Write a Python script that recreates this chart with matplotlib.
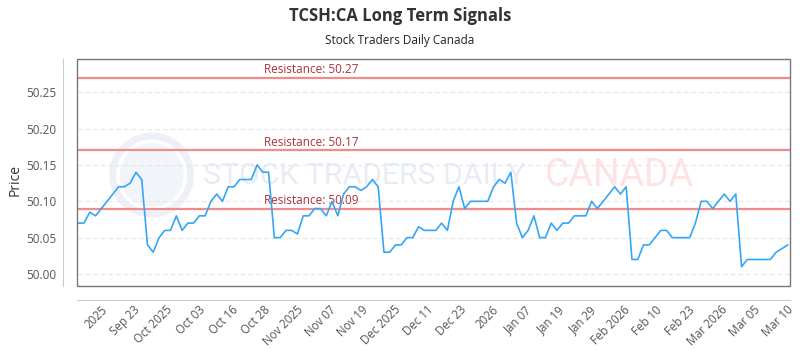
import matplotlib
matplotlib.use("Agg")
import matplotlib.pyplot as plt
from matplotlib.patches import Rectangle, Circle
from matplotlib.transforms import IdentityTransform
import numpy as np

plt.rcParams['font.family'] = ['Open Sans', 'DejaVu Sans']

prices = [
    50.07, 50.07, 50.085, 50.08, 50.09, 50.10, 50.11, 50.12, 50.12, 50.125,
    50.14, 50.13, 50.04, 50.03, 50.05, 50.06, 50.06, 50.08, 50.06, 50.07,
    50.07, 50.08, 50.08, 50.10, 50.11, 50.10, 50.12, 50.12, 50.13, 50.13,
    50.13, 50.15, 50.14, 50.14, 50.05, 50.05, 50.06, 50.06, 50.055, 50.08,
    50.08, 50.09, 50.09,
    50.08, 50.10, 50.08, 50.11, 50.12, 50.12, 50.115, 50.12, 50.13, 50.12,
    50.03, 50.03, 50.04, 50.04, 50.05, 50.05, 50.065, 50.06, 50.06, 50.06,
    50.07, 50.06, 50.10, 50.12, 50.09, 50.10, 50.10, 50.10, 50.10, 50.12,
    50.13, 50.125, 50.14, 50.07, 50.05, 50.06, 50.08, 50.05, 50.05,
    50.07, 50.06, 50.07, 50.07, 50.08, 50.08, 50.08, 50.10, 50.09, 50.10,
    50.11, 50.12, 50.11, 50.12, 50.02, 50.02, 50.04, 50.04, 50.05, 50.06,
    50.06, 50.05, 50.05, 50.05, 50.05, 50.07, 50.10, 50.10, 50.09, 50.10,
    50.11, 50.10, 50.11, 50.01, 50.02, 50.02, 50.02, 50.02, 50.02, 50.03,
    50.035, 50.04,
]

resistance_levels = [50.27, 50.17, 50.09]
resistance_labels = ["Resistance: 50.27", "Resistance: 50.17", "Resistance: 50.09"]

tick_labels = ["2025", "Sep 23", "Oct 2025", "Oct 03", "Oct 16", "Oct 28",
               "Nov 2025", "Nov 07", "Nov 19", "Dec 2025", "Dec 11", "Dec 23",
               "2026", "Jan 07", "Jan 19", "Jan 29", "Feb 2026", "Feb 10",
               "Feb 23", "Mar 2026", "Mar 05", "Mar 10"]

y_ticks = [50.00, 50.05, 50.10, 50.15, 50.20, 50.25]

x = np.arange(len(prices))

fig = plt.figure(figsize=(8, 3.5), dpi=100)
ax = fig.add_axes([0.0966, 0.1829, 0.8909, 0.6477])

for s in ['top', 'right']:
    ax.spines[s].set_visible(False)
ax.spines['left'].set_position(('outward', 10))
ax.spines['bottom'].set_position(('outward', 10))
ax.spines['left'].set_color('#cccccc')
ax.spines['bottom'].set_color('#cccccc')

ax.set_xlim(-0.17, len(prices) - 1 + 0.4)
ax.set_ylim(49.9835, 50.2954)

# watermark (pixel coordinates)
ident = IdentityTransform()
ax.text(203, 350 - 176, "STOCK TRADERS DAILY", transform=ident, fontsize=21.7,
        family=['Roboto', 'DejaVu Sans'], color='#e8edf5', va='center', ha='left', zorder=0)
ax.text(545, 350 - 176, "CANADA", transform=ident, fontsize=27,
        family=['Roboto', 'DejaVu Sans'], color='#fde3e3', va='center', ha='left', zorder=0)
ax.add_patch(Circle((151.7, 350 - 175), 39, transform=ident, fill=False,
                    edgecolor='#edf1f7', lw=5, zorder=0))
ax.add_patch(Circle((151.7, 350 - 175), 32, transform=ident, fill=True,
                    facecolor='#f1f4f9', edgecolor='none', zorder=0))

for yv in y_ticks:
    ax.axhline(yv, color='#e6e6e6', lw=0.8, ls=(0, (4, 3)), zorder=1)

for lvl, lab in zip(resistance_levels, resistance_labels):
    ax.axhline(lvl, color='#f28b8b', lw=1.6, zorder=2)
    ax.text(32.2, lvl + 0.002, lab, color='#b0303a', fontsize=8.5,
            ha='left', va='bottom', zorder=3)

ax.plot(x, prices, color='#35a6f5', lw=1.2, zorder=4)

ax.set_yticks(y_ticks)
ax.set_yticklabels([f"{v:.2f}" for v in y_ticks])
tick_pos = np.linspace(3.6, 122.5, len(tick_labels))
ax.set_xticks(tick_pos)
ax.set_xticklabels([""] * len(tick_labels))

ax.tick_params(axis='both', length=0, colors='#555555', labelsize=8.5)
ax.tick_params(axis='y', pad=5)

for pos, lab in zip(tick_pos, tick_labels):
    ax.annotate(lab, xy=(pos, 0), xycoords=('data', 'axes fraction'),
                xytext=(1, -12.5), textcoords='offset points', rotation=45,
                ha='right', va='top', rotation_mode='anchor',
                fontsize=8.3, color='#555555', annotation_clip=False)

ax.add_patch(Rectangle((0, 0), 1, 1, transform=ax.transAxes, fill=False,
                       edgecolor='#777777', lw=1.0, clip_on=False, zorder=5))

fig.text(15 / 800, 1 - 180 / 350, "Price", rotation=90, ha='center', va='center',
         fontsize=10, color='#333333')

fig.text(0.5, 0.955, "TCSH:CA Long Term Signals", ha='center', va='center',
         fontsize=12, fontweight='bold', color='#333333')
fig.text(0.5, 0.885, "Stock Traders Daily Canada", ha='center', va='center',
         fontsize=8.5, color='#222222')

fig.savefig("out.png", dpi=100)
